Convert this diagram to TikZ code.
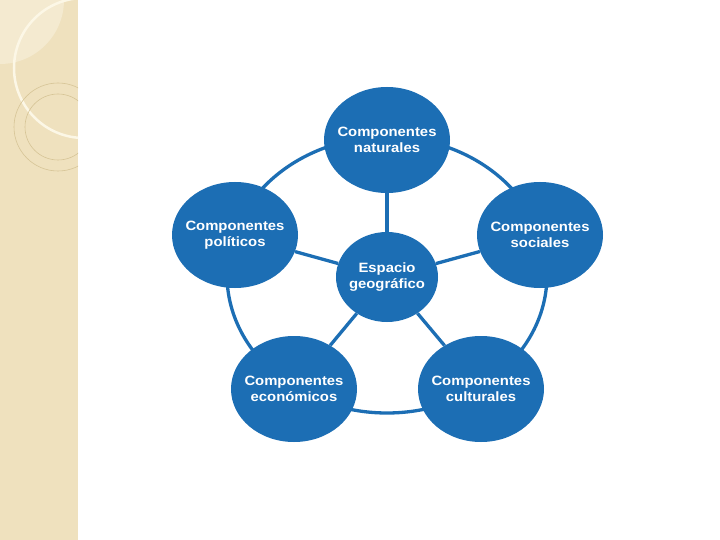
\documentclass[tikz,border=0pt]{standalone}
\usepackage{fontspec}
\newfontfamily\lblfont[FakeStretch=1.1]{Liberation Sans}
\usetikzlibrary{shapes.geometric}
\definecolor{bblue}{RGB}{28,110,180}
\definecolor{strip}{RGB}{239,225,190}
\definecolor{striplight}{RGB}{244,234,208}
\definecolor{ringline}{RGB}{214,196,150}
\definecolor{creamline}{RGB}{252,247,230}
\begin{document}
\begin{tikzpicture}[x=1pt,y=-1pt,
  lbl/.style={align=center,text=white,font=\lblfont\bfseries\fontsize{13.5}{16.5}\selectfont},
  comp/.style={ellipse,fill=bblue,minimum width=126pt,minimum height=106pt,inner sep=0pt},
  core/.style={comp,minimum width=102pt,minimum height=90pt},
  link/.style={draw=bblue,line width=3.3pt}]
\useasboundingbox (0,0) rectangle (720,540);
\fill[white] (0,0) rectangle (720,540);
% left decorative strip
\begin{scope}
\clip (0,0) rectangle (78,540);
\fill[strip] (0,0) rectangle (78,540);
\fill[striplight] (0,0) circle[radius=64];
\draw[creamline,line width=2.5pt] (84,68) circle[radius=70];
\draw[ringline,line width=0.6pt] (58,127) circle[radius=44];
\draw[ringline,line width=0.6pt] (58,127) circle[radius=33];
\end{scope}
% ring
\coordinate (ringc) at (387,275);
\draw[link] (ringc) ellipse[x radius=160pt,y radius=138pt];
% nodes
\node[comp,label={[lbl]center:Componentes\\naturales}] (nat) at (387,140) {};
\node[comp,label={[lbl]center:Componentes\\políticos}] (pol) at (235,235) {};
\node[comp,label={[lbl]center:Componentes\\sociales}] (soc) at (540,235) {};
\node[comp,label={[lbl]center:Componentes\\económicos}] (eco) at (294,389) {};
\node[comp,label={[lbl]center:Componentes\\culturales}] (cul) at (481,389) {};
\node[core,label={[lbl]center:Espacio\\geográfico}] (esp) at (387,277) {};
% spokes
\foreach \t in {nat,pol,soc,eco,cul}
  \draw[link] (esp) -- (\t);
\end{tikzpicture}
\end{document}
